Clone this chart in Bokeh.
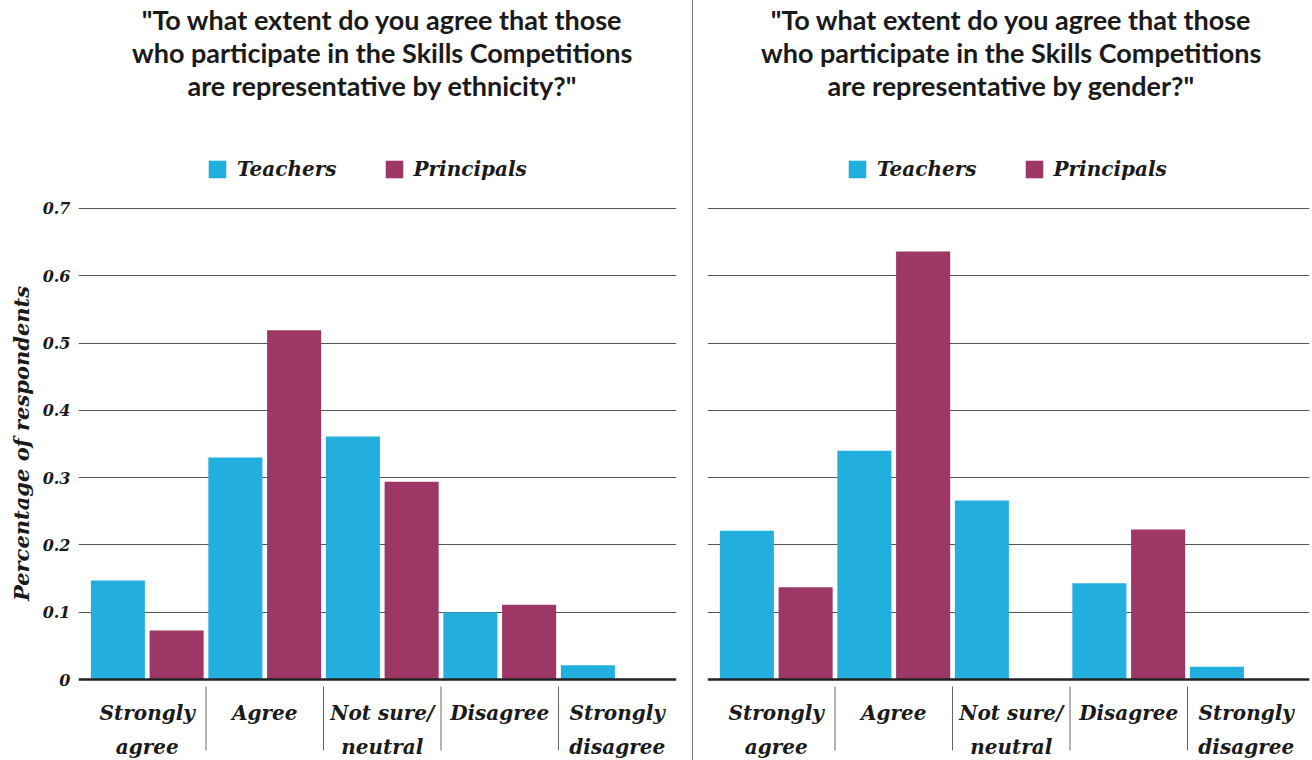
from bokeh.plotting import figure
from bokeh.models import (ColumnDataSource, Range1d, FixedTicker, Legend, LegendItem, Spacer)
from bokeh.layouts import row, column
from bokeh.transform import dodge
from bokeh.core.properties import value
from bokeh.embed import file_html
from bokeh.resources import INLINE

# ---------------- data ----------------
categories = ["Strongly\nagree", "Agree", "Not sure/\nneutral", "Disagree", "Strongly\ndisagree"]
series = ["Teachers", "Principals"]
ethnicity_teachers = [0.147, 0.330, 0.361, 0.100, 0.021]
ethnicity_principals = [0.073, 0.519, 0.294, 0.111, 0.0]
gender_teachers = [0.221, 0.340, 0.266, 0.143, 0.019]
gender_principals = [0.137, 0.636, 0.0, 0.223, 0.0]
y_ticks = [0.0, 0.1, 0.2, 0.3, 0.4, 0.5, 0.6, 0.7]
y_tick_labels = ["0", "0.1", "0.2", "0.3", "0.4", "0.5", "0.6", "0.7"]
title_ethnicity = ['"To what extent do you agree that those',
                   'who participate in the Skills Competitions',
                   'are representative by ethnicity?"']
title_gender = ['"To what extent do you agree that those',
                'who participate in the Skills Competitions',
                'are representative by gender?"']
y_label = "Percentage of respondents"

# ---------------- style / layout ----------------
TEACH_COLOR = "#22afde"
PRIN_COLOR = "#9d3766"
SERIF = "DejaVu Serif"
SANS = "Lato"
TEXT_COLOR = "#1a1a1a"
CAT_W = 117.5          # px per category
PX_PER_UNIT = 672.86   # px per 1.0 on the value axis
HEADER_H = 126
CHART_H = 634
FRAME_TOP_PAD = 82     # px above the 0.7 gridline inside the frame
FRAME_BOTTOM_PAD = 81  # px below zero inside the frame
SEP_TOP = 7            # separator start, px below zero
SEP_BOTTOM = 71        # separator end, px below zero
LEGEND_BOTTOM = 579    # legend bottom edge, px above frame bottom


def make_panel(teachers, principals, title_lines, show_y, width, border_left, border_right,
               legend_x):
    frame_w = width - border_left - border_right
    x_start = -10.0 / CAT_W
    x_end = x_start + frame_w / CAT_W
    y_top = y_ticks[-1] + FRAME_TOP_PAD / PX_PER_UNIT
    y_bot = -FRAME_BOTTOM_PAD / PX_PER_UNIT

    # ---- header with the question ----
    h = figure(width=width, height=HEADER_H, output_backend="svg", toolbar_location=None,
               x_range=Range1d(x_start, x_end), y_range=Range1d(0, HEADER_H),
               x_axis_location=None, y_axis_location=None,
               min_border_left=border_left, min_border_right=border_right,
               min_border_top=0, min_border_bottom=0)
    h.outline_line_color = None
    h.grid.visible = False
    hsrc = ColumnDataSource(dict(x=[len(categories) / 2.0], y=[HEADER_H - 52],
                                 t=["\n".join(title_lines)]))
    h.text(x="x", y="y", text="t", source=hsrc, text_align="center", text_baseline="middle",
           text_font=value(SANS), text_font_style="bold", text_font_size="27px",
           text_color=TEXT_COLOR, text_line_height=1.0)

    # ---- chart ----
    p = figure(width=width, height=CHART_H, output_backend="svg", toolbar_location=None,
               x_range=Range1d(x_start, x_end), y_range=Range1d(y_bot, y_top),
               min_border_left=border_left, min_border_right=border_right,
               min_border_top=0, min_border_bottom=0)
    p.outline_line_color = None

    centers = [i + 0.5 for i in range(len(categories))]
    src = ColumnDataSource(dict(x=centers, cat=categories,
                                teachers=teachers, principals=principals))
    r1 = p.vbar(x=dodge("x", -0.25), top="teachers", width=0.46, source=src,
                fill_color=TEACH_COLOR, line_color=None)
    r2 = p.vbar(x=dodge("x", 0.25), top="principals", width=0.46, source=src,
                fill_color=PRIN_COLOR, line_color=None)

    # category separators below the zero line
    bounds = [i + 1.0 for i in range(len(categories) - 1)]
    p.segment(x0=bounds, x1=bounds, y0=[-SEP_TOP / PX_PER_UNIT] * len(bounds),
              y1=[-SEP_BOTTOM / PX_PER_UNIT] * len(bounds), line_color="#666666", line_width=1)

    xa = p.xaxis[0]
    xa.fixed_location = 0
    xa.ticker = FixedTicker(ticks=centers)
    xa.major_label_overrides = {c: lab for c, lab in zip(centers, categories)}
    xa.axis_line_color = "#222222"
    xa.axis_line_width = 2.5
    xa.major_tick_line_color = None
    xa.minor_tick_line_color = None
    xa.major_tick_out = 0
    xa.minor_tick_out = 0
    xa.major_label_standoff = 21
    xa.major_label_text_font = SERIF
    xa.major_label_text_font_style = "bold italic"
    xa.major_label_text_font_size = "20px"
    xa.major_label_text_color = TEXT_COLOR
    xa.major_label_text_line_height = 1.42
    p.xgrid.visible = False

    ya = p.yaxis[0]
    ya.ticker = FixedTicker(ticks=y_ticks)
    ya.major_label_overrides = {t: lab for t, lab in zip(y_ticks, y_tick_labels)}
    ya.axis_line_color = None
    ya.major_tick_line_color = None
    ya.minor_tick_line_color = None
    ya.major_tick_out = 0
    ya.minor_tick_out = 0
    ya.major_label_standoff = 8
    ya.major_label_text_font = SERIF
    ya.major_label_text_font_style = "bold italic"
    ya.major_label_text_font_size = "16px"
    ya.major_label_text_color = TEXT_COLOR
    if show_y:
        ya.axis_label = y_label
        ya.axis_label_text_font = SERIF
        ya.axis_label_text_font_style = "bold italic"
        ya.axis_label_text_font_size = "21px"
        ya.axis_label_text_color = TEXT_COLOR
        ya.axis_label_standoff = 6
    else:
        ya.visible = False
    p.ygrid.ticker = FixedTicker(ticks=y_ticks[1:])
    p.ygrid.grid_line_color = "#555555"
    p.ygrid.grid_line_width = 1

    legend = Legend(items=[LegendItem(label=series[0], renderers=[r1]),
                           LegendItem(label=series[1], renderers=[r2])],
                    orientation="horizontal", location=(legend_x, LEGEND_BOTTOM),
                    glyph_width=22, glyph_height=22, label_standoff=9, spacing=46,
                    label_text_font=SERIF, label_text_font_style="bold italic",
                    label_text_font_size="20px", label_text_color=TEXT_COLOR,
                    border_line_color=None, background_fill_alpha=0,
                    padding=4, margin=0)
    p.add_layout(legend, "center")
    return column(h, p, spacing=0)


left = make_panel(ethnicity_teachers, ethnicity_principals, title_ethnicity, True, 692, 78, 16, 128)
divider = Spacer(width=1, height=HEADER_H + CHART_H, styles={"background-color": "#777777"})
right = make_panel(gender_teachers, gender_principals, title_gender, False, 619, 14, 3, 139)

layout = row(left, divider, right, spacing=0)
open("out.html", "w").write(file_html(layout, INLINE))
